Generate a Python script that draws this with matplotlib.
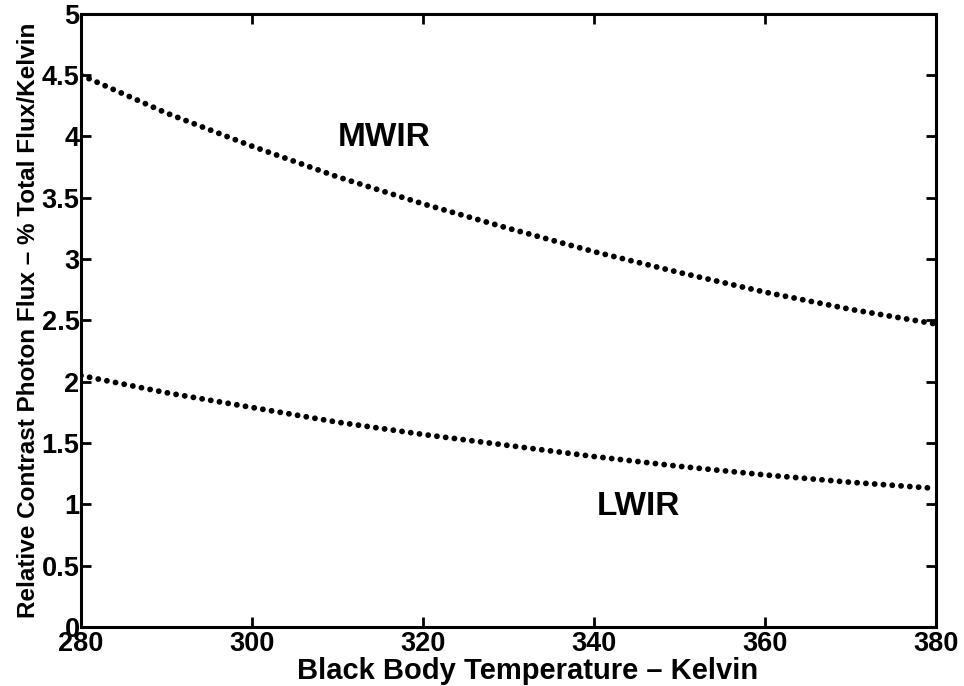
import matplotlib
matplotlib.use("Agg")
import matplotlib.pyplot as plt

plt.rcParams['font.family'] = ['Liberation Sans', 'DejaVu Sans']
plt.rcParams['font.weight'] = 'bold'

# valores (K, % fluxo total / K)
temps = [280, 290, 300, 310, 320, 330, 340, 350, 360, 370, 380]
mwir = [4.50, 4.19, 3.92, 3.67, 3.45, 3.25, 3.06, 2.89, 2.73, 2.59, 2.47]
lwir = [2.05, 1.91, 1.79, 1.67, 1.57, 1.48, 1.39, 1.31, 1.24, 1.18, 1.13]

yticks = [0, 0.5, 1, 1.5, 2, 2.5, 3, 3.5, 4, 4.5, 5]
ytick_labels = ['0', '0.5', '1', '1.5', '2', '2.5', '3', '3.5', '4', '4.5', '5']
xticks = [280, 300, 320, 340, 360, 380]

fig = plt.figure(figsize=(9.64, 6.86), dpi=100)
ax = fig.add_axes([0.084, 0.086, 0.887, 0.894])

estilo = dict(color='k', linewidth=4.2, linestyle=(0, (0.01, 1.5)),
              dash_capstyle='round')
ax.plot(temps, mwir, **estilo)
ax.plot(temps, lwir, **estilo)

ax.text(315.5, 3.99, 'MWIR', fontsize=24, fontweight='bold', ha='center', va='center')
ax.text(345.2, 0.98, 'LWIR', fontsize=24, fontweight='bold', ha='center', va='center')

ax.set_xlim(280, 380)
ax.set_ylim(0, 5)
ax.set_xticks(xticks)
ax.set_xticklabels([str(t) for t in xticks])
ax.set_yticks(yticks)
ax.set_yticklabels(ytick_labels)

ax.tick_params(direction='in', length=7, width=2, labelsize=19.5,
               top=True, right=True)
ax.tick_params(axis='x', pad=3)
ax.tick_params(axis='y', pad=1)
for s in ax.spines.values():
    s.set_linewidth(2.2)

ax.set_xlabel('Black Body Temperature \u2013 Kelvin', fontsize=21,
              fontweight='bold', labelpad=0)
ax.xaxis.label.set_x(0.522)
ax.set_ylabel('Relative Contrast Photon Flux \u2013 % Total Flux/Kelvin',
              fontsize=17.5, fontweight='bold', labelpad=1)

fig.savefig('out.png', dpi=100)
